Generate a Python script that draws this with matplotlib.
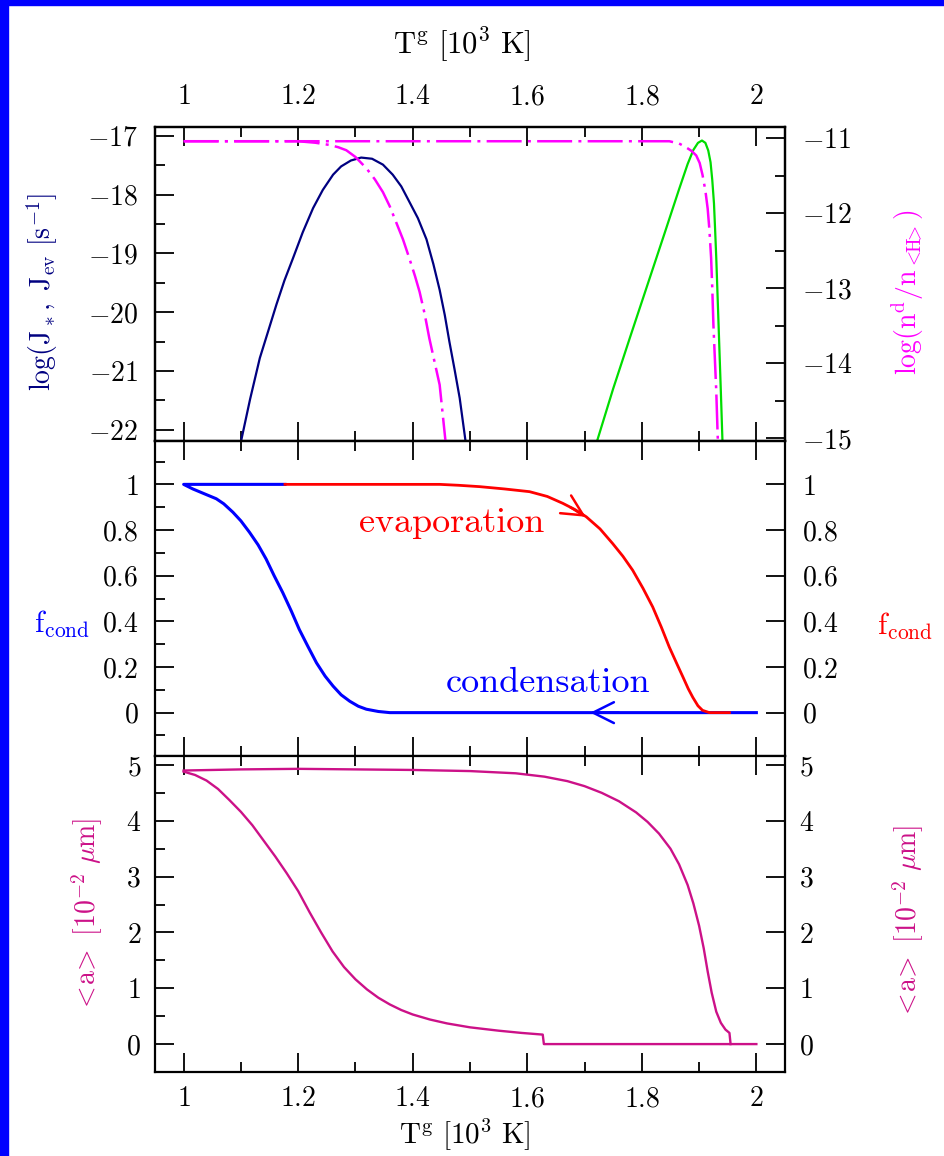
import numpy as np
import matplotlib
matplotlib.use("Agg")
import matplotlib.pyplot as plt
from matplotlib.ticker import MultipleLocator, FuncFormatter
from matplotlib.patches import Rectangle

plt.rcParams['font.family'] = 'serif'
plt.rcParams['font.serif'] = ['cmr10', 'DejaVu Serif']
plt.rcParams['mathtext.fontset'] = 'cm'
plt.rcParams['axes.formatter.use_mathtext'] = True

# --- top panel: nucleation / evaporation rates (left) and dust abundance (right)
tj_x = [1.099, 1.116, 1.133, 1.148, 1.162, 1.176, 1.191, 1.208, 1.226, 1.243, 1.261, 1.275,
        1.292, 1.310, 1.329, 1.348, 1.365, 1.380, 1.394, 1.409, 1.424, 1.436, 1.447, 1.456,
        1.464, 1.473, 1.482, 1.493]
tj_y = [-22.25, -21.48, -20.78, -20.31, -19.87, -19.46, -19.08, -18.64, -18.23, -17.92, -17.66,
        -17.52, -17.42, -17.37, -17.39, -17.49, -17.66, -17.86, -18.12, -18.40, -18.76, -19.18,
        -19.62, -20.05, -20.50, -20.97, -21.46, -22.25]
jev_x = [1.720, 1.750, 1.780, 1.810, 1.840, 1.865, 1.880, 1.890, 1.898, 1.905, 1.911, 1.916,
         1.920, 1.923, 1.926, 1.928, 1.930, 1.934, 1.938, 1.941]
jev_y = [-22.25, -21.30, -20.41, -19.53, -18.65, -17.91, -17.48, -17.24, -17.12, -17.08, -17.12,
         -17.25, -17.45, -17.75, -18.15, -18.60, -19.08, -20.21, -21.35, -22.25]
nd_cond_x = [1.0, 1.20, 1.23, 1.255, 1.270, 1.284, 1.300, 1.319, 1.334, 1.348, 1.360, 1.371,
             1.383, 1.394, 1.404, 1.412, 1.421, 1.429, 1.438, 1.447, 1.458]
nd_cond_y = [-11.04, -11.04, -11.06, -11.09, -11.12, -11.16, -11.25, -11.40, -11.55, -11.72,
             -11.91, -12.12, -12.35, -12.60, -12.84, -13.05, -13.35, -13.67, -13.98, -14.29, -15.10]
nd_evap_x = [1.0, 1.848, 1.865, 1.877, 1.887, 1.895, 1.901, 1.906, 1.911, 1.915, 1.918, 1.921,
             1.923, 1.925, 1.930, 1.933]
nd_evap_y = [-11.04, -11.04, -11.07, -11.12, -11.17, -11.23, -11.33, -11.49, -11.70, -11.94,
             -12.22, -12.60, -13.00, -13.49, -14.38, -15.10]

# --- middle panel: degree of condensation
fc_cond_x = [2.0, 1.36, 1.34, 1.319, 1.305, 1.290, 1.275, 1.261, 1.247, 1.232, 1.217, 1.202,
             1.188, 1.173, 1.158, 1.144, 1.130, 1.115, 1.100, 1.086, 1.070, 1.057, 1.035, 1.016,
             1.0, 1.177]
fc_cond_y = [0, 0, 0.005, 0.015, 0.028, 0.05, 0.078, 0.116, 0.16, 0.218, 0.29, 0.364, 0.445,
             0.526, 0.60, 0.673, 0.735, 0.79, 0.84, 0.878, 0.915, 0.937, 0.96, 0.98, 1.0, 1.0]
fc_evap_x = [1.177, 1.447, 1.480, 1.517, 1.560, 1.604, 1.635, 1.662, 1.683, 1.703, 1.727, 1.749,
             1.767, 1.784, 1.802, 1.819, 1.834, 1.848, 1.861, 1.872, 1.881, 1.889, 1.898, 1.906,
             1.918, 1.953]
fc_evap_y = [1.0, 1.0, 0.996, 0.99, 0.98, 0.968, 0.947, 0.917, 0.89, 0.858, 0.805, 0.741, 0.685,
             0.624, 0.545, 0.463, 0.375, 0.287, 0.215, 0.155, 0.105, 0.067, 0.03, 0.01, 0, 0]

# --- bottom panel: mean grain radius
a_cond_x = [1.0, 1.02, 1.04, 1.06, 1.08, 1.10, 1.12, 1.14, 1.16, 1.18, 1.20, 1.22, 1.24, 1.26,
            1.28, 1.30, 1.32, 1.34, 1.36, 1.38, 1.40, 1.43, 1.46, 1.50, 1.55, 1.59, 1.627, 1.629, 2.0]
a_cond_y = [4.88, 4.82, 4.72, 4.57, 4.37, 4.16, 3.92, 3.64, 3.36, 3.06, 2.74, 2.36, 2.00, 1.66,
            1.38, 1.16, 0.98, 0.83, 0.71, 0.61, 0.53, 0.44, 0.37, 0.30, 0.24, 0.20, 0.17, 0.0, 0.0]
a_evap_x = [1.0, 1.1, 1.2, 1.3, 1.4, 1.5, 1.58, 1.63, 1.67, 1.70, 1.73, 1.76, 1.79, 1.81, 1.83,
            1.85, 1.865, 1.88, 1.89, 1.90, 1.908, 1.915, 1.922, 1.93, 1.938, 1.946, 1.953, 1.955]
a_evap_y = [4.90, 4.92, 4.93, 4.92, 4.91, 4.89, 4.85, 4.79, 4.71, 4.62, 4.50, 4.35, 4.15, 3.98,
            3.77, 3.50, 3.22, 2.85, 2.52, 2.12, 1.72, 1.30, 0.92, 0.58, 0.38, 0.26, 0.20, 0.0]

NAVY = '#000080'
MAG = '#ff00ff'
GREEN = '#00dd00'
VIOLET = '#cc1188'

fig = plt.figure(figsize=(9.45, 11.56), dpi=100)
fig.patches.append(Rectangle((0, 0), 8 / 945, 1, transform=fig.transFigure, color='#0000ff', zorder=10))
fig.patches.append(Rectangle((0, 1 - 5 / 1156), 1, 5 / 1156, transform=fig.transFigure, color='#0000ff', zorder=10))

L, W = 155 / 945, 630 / 945
ax1 = fig.add_axes([L, 1 - 441 / 1156, W, 314 / 1156])
ax2 = fig.add_axes([L, 1 - 756 / 1156, W, 315 / 1156])
ax3 = fig.add_axes([L, 1 - 1072 / 1156, W, 316 / 1156])
ax1r = ax1.twinx()

fmt = FuncFormatter(lambda v, p: f'${v:g}$')
for ax in (ax1, ax2, ax3, ax1r):
    ax.set_xlim(0.95, 2.05)
    ax.xaxis.set_major_locator(MultipleLocator(0.2))
    ax.xaxis.set_minor_locator(MultipleLocator(0.1))
    ax.xaxis.set_major_formatter(fmt)
    ax.yaxis.set_major_formatter(fmt)
    ax.tick_params(which='both', direction='in', top=True, labelsize=20, width=1.3, pad=12)
    ax.tick_params(which='major', length=14)
    ax.tick_params(which='minor', length=7)
    for s in ax.spines.values():
        s.set_linewidth(1.6)

# top panel
ax1.set_ylim(-22.19, -16.85)
ax1.yaxis.set_major_locator(MultipleLocator(1))
ax1.yaxis.set_minor_locator(MultipleLocator(0.5))
ax1.tick_params(labeltop=True, labelbottom=False, right=False)
ax1r.set_ylim(-15.04, -10.85)
ax1r.yaxis.set_major_locator(MultipleLocator(1))
ax1r.yaxis.set_minor_locator(MultipleLocator(0.5))
ax1r.tick_params(left=False, labelbottom=False, labeltop=False)
ax1.plot(tj_x, tj_y, color=NAVY, lw=1.6)
ax1.plot(jev_x, jev_y, color=GREEN, lw=1.6)
dd = (0, (14, 2.5, 1.2, 2.5))
ax1r.plot(nd_cond_x, nd_cond_y, color=MAG, lw=1.8, ls=dd)
ax1r.plot(nd_evap_x, nd_evap_y, color=MAG, lw=1.8, ls=dd)

# middle panel
ax2.set_ylim(-0.19, 1.19)
ax2.yaxis.set_major_locator(MultipleLocator(0.2))
ax2.yaxis.set_minor_locator(MultipleLocator(0.1))
ax2.tick_params(right=True, labelright=True, labelbottom=False)
ax2.plot(fc_cond_x, fc_cond_y, color='#0000ff', lw=2.2)
ax2.plot(fc_evap_x, fc_evap_y, color='#ff0000', lw=2.0)
ax2.text(1.468, 0.83, 'evaporation', color='#ff0000', fontsize=26, ha='center', va='center')
ax2.text(1.637, 0.127, 'condensation', color='#0000ff', fontsize=26, ha='center', va='center')
ax2.annotate('', xy=(1.702, 0.858), xytext=(1.675, 0.90),
             arrowprops=dict(arrowstyle='->, head_length=0.6, head_width=0.3', color='#ff0000',
                             lw=1.8, mutation_scale=25, shrinkA=0, shrinkB=0))
ax2.annotate('', xy=(1.71, 0), xytext=(1.76, 0),
             arrowprops=dict(arrowstyle='->, head_length=0.6, head_width=0.3', color='#0000ff',
                             lw=1.8, mutation_scale=25, shrinkA=0, shrinkB=0))

# bottom panel
ax3.set_ylim(-0.5, 5.16)
ax3.yaxis.set_major_locator(MultipleLocator(1))
ax3.yaxis.set_minor_locator(MultipleLocator(0.5))
ax3.tick_params(right=True, labelright=True, labelbottom=True, pad=10)
ax3.plot(a_cond_x, a_cond_y, color=VIOLET, lw=1.7)
ax3.plot(a_evap_x, a_evap_y, color=VIOLET, lw=1.7)

# axis labels
def ft(x, y, s, **kw):
    fig.text(x / 945, 1 - y / 1156, s, ha='center', va='center', **kw)

xl = r'$\mathrm{T^g\ [10^3\ K]}$'
ft(462, 45, xl, fontsize=22)
ft(465, 1135, xl, fontsize=21)
ft(42, 292, r'$\mathrm{log(J_*,\ J_{ev}\ [s^{-1}]}$', fontsize=20, rotation=90, color=NAVY)
ft(908, 292, r'$\mathrm{log(n^d/n_{<\!\!H\!\!>})}$', fontsize=20, rotation=90, color=MAG)
ft(62, 624, r'$\mathrm{f_{cond}}$', fontsize=22, color='#0000ff')
ft(905, 626, r'$\mathrm{f_{cond}}$', fontsize=22, color='#ff0000')
al = r'$\mathrm{<\!a\!>\ [10^{-2}}\ \mu\mathrm{m]}$'
ft(87, 915, al, fontsize=20, rotation=90, color=VIOLET)
ft(908, 922, al, fontsize=20, rotation=90, color=VIOLET)

fig.savefig('out.png', dpi=100)
